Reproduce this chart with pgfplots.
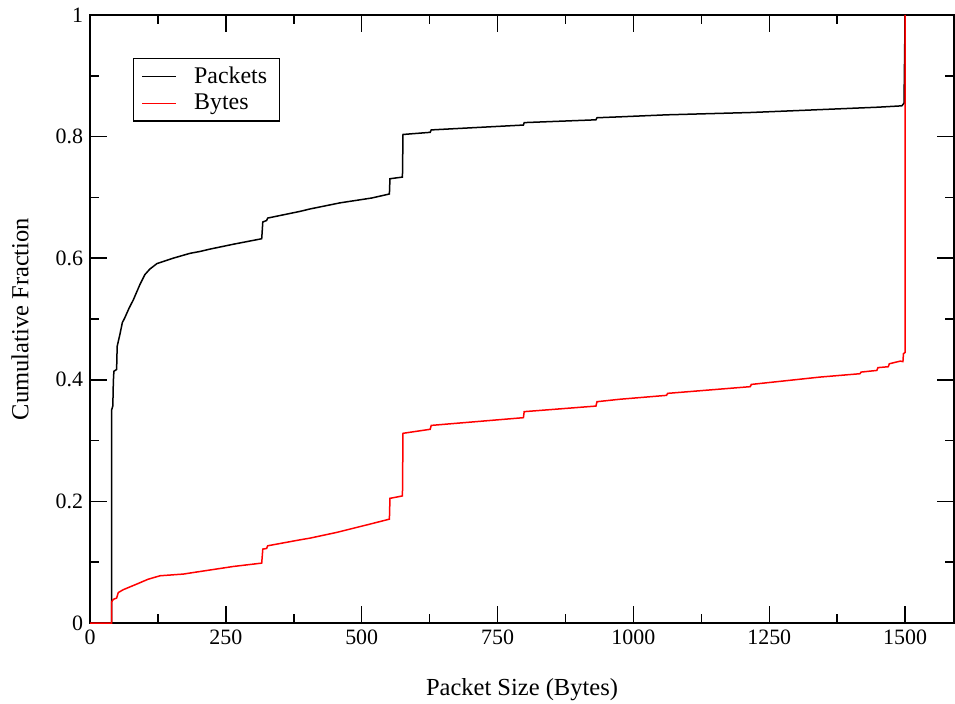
\documentclass[border=0pt]{standalone}
\usepackage{fontspec}
\setmainfont{Liberation Serif}
\usepackage{pgfplots}
\pgfplotsset{compat=1.18}
\begin{document}
\begin{tikzpicture}
\begin{axis}[
  scale only axis,
  width=432bp, height=304bp,
  xmin=0, xmax=1590, ymin=0, ymax=1,
  xtick={0,250,...,1500},
  ytick={0,0.2,0.4,0.6,0.8,1},
  minor x tick num=1, minor y tick num=1,
  tick align=inside,
  major tick length=8.5bp, minor tick length=4.5bp,
  every tick/.style={black, line width=0.75bp},
  axis line style={line width=1bp},
  /pgf/number format/assume math mode=true,
  /pgf/number format/1000 sep={},
  font=\fontsize{11}{13}\selectfont,
  tick label style={font=\fontsize{11}{13}\selectfont},
  xlabel={Packet Size (Bytes)},
  ylabel={Cumulative Fraction},
  label style={font=\fontsize{12.3}{14}\selectfont},
  xlabel style={at={(axis description cs:0.5,-0.110)}, anchor=center},
  ylabel style={at={(axis description cs:-0.081,0.5)}, anchor=center},
  legend style={at={(rel axis cs:0.0498,0.929)}, anchor=north west, draw=black, line width=0.6bp,
    font=\fontsize{12}{13.5}\selectfont, cells={anchor=west}, inner xsep=4bp, inner ysep=2bp},
  legend image code/.code={\draw[#1, line width=0.75bp] (0bp,0bp) -- (17bp,0bp); \path (23.5bp,0bp);},
]
\addplot[black, line width=0.75bp] coordinates {
(0,0) (40,0) (40,0.351) (42,0.357) (43,0.398) (44,0.414) (49,0.417) (50,0.455) (55,0.4745) (59.5,0.494) (64,0.502) (72,0.518) (80,0.532) (92,0.557) (101,0.573) (110,0.582) (123,0.591) (153,0.600) (184,0.608) (202,0.611) (221,0.615) (264,0.623) (316,0.632) (318,0.6596) (325,0.662) (327,0.666) (386.5,0.677) (405,0.681) (460,0.691) (518.5,0.699) (551,0.7056) (552,0.7307) (575,0.7334) (576,0.8035) (626,0.807) (628,0.811) (797.6,0.819) (799,0.823) (931,0.8276) (933,0.831) (975,0.8325) (1061,0.8358) (1215,0.8396) (1307,0.843) (1451,0.8484) (1494,0.8506) (1498,0.855) (1500,1)
};
\addlegendentry{Packets}
\addplot[red, line width=0.75bp] coordinates {
(0,0) (40,0) (40,0.035) (43,0.039) (49,0.041) (52,0.050) (61,0.0547) (86,0.064) (107,0.072) (129,0.0777) (172,0.0805) (190,0.083) (264,0.093) (316,0.0985) (318,0.1215) (325,0.1226) (327,0.127) (386.5,0.1368) (405,0.1396) (454,0.149) (515,0.1626) (551,0.1708) (552,0.205) (575,0.209) (576,0.312) (626,0.3186) (628,0.325) (797.6,0.3377) (799,0.3476) (931,0.3568) (933,0.364) (975,0.368) (1061,0.3744) (1063,0.3777) (1215,0.3887) (1217,0.3924) (1343.6,0.4045) (1417,0.410) (1419,0.4127) (1448,0.4154) (1450,0.420) (1469,0.4215) (1471,0.4264) (1491,0.4307) (1496,0.430) (1497,0.443) (1500,0.445) (1500,1)
};
\addlegendentry{Bytes}
\end{axis}
\pgfresetboundingbox
\path ([xshift=-45bp,yshift=-40.5bp]current axis.south west) rectangle ([xshift=0.5bp,yshift=7.5bp]current axis.north east);
\end{tikzpicture}
\end{document}
